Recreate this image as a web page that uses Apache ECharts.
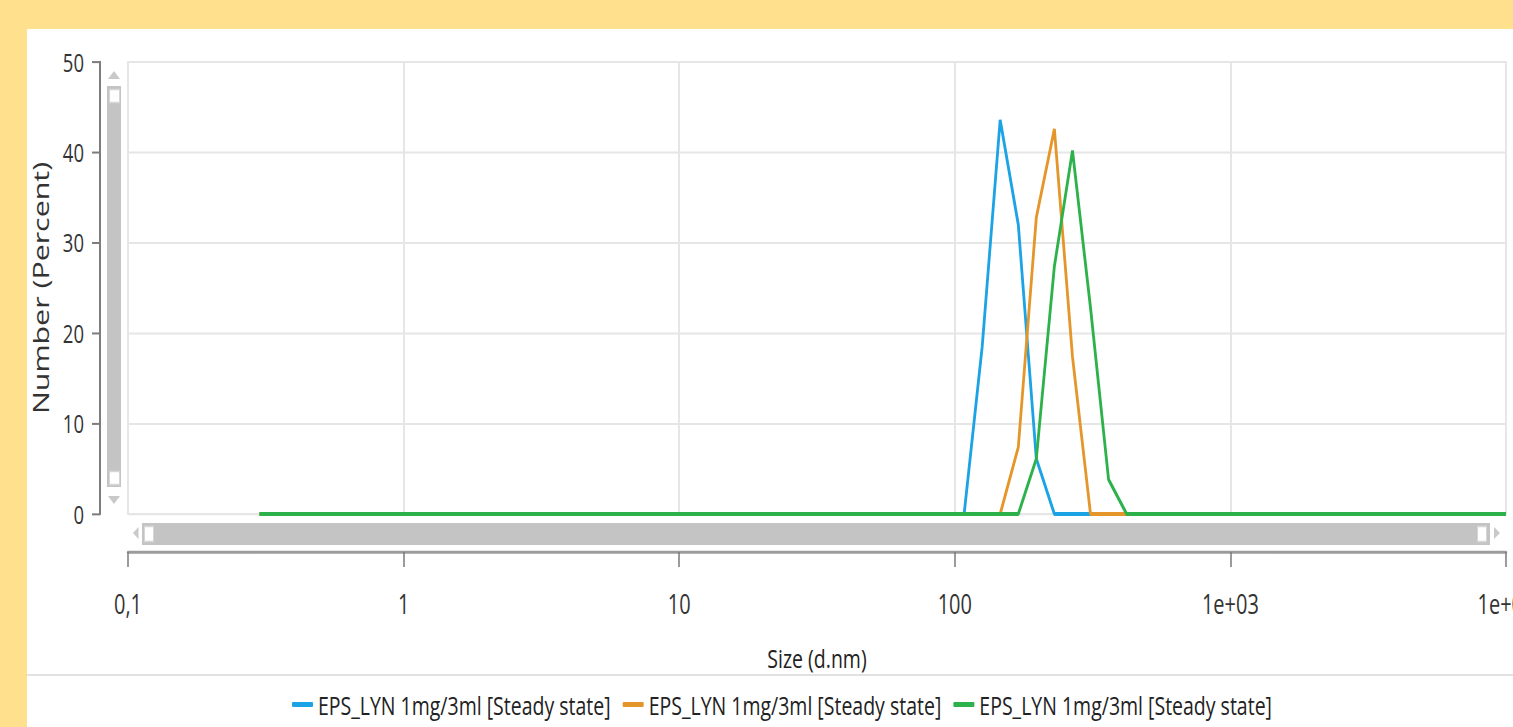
<!DOCTYPE html>
<html>
<head>
<meta charset="utf-8">
<title>Size distribution by number</title>
<script src="https://cdn.jsdelivr.net/npm/echarts@6/dist/echarts.min.js"></script>
<style>
  html { margin: 0; padding: 0; background: #FFE18D; overflow: hidden; }
  body { margin: 0; padding: 0; width: 1513px; height: 727px; overflow: visible; }
  #chart { width: 1513px; transform-origin: 0 0; }
</style>
</head>
<body>
<div id="chart"></div>
<script>
// Size classes (d.nm), log-spaced from 0.3 to 10000 nm
const sizeClasses = [
  0.3, 0.3489, 0.4057, 0.4718, 0.5487, 0.6381, 0.7421, 0.863, 1.003, 1.167,
  1.357, 1.578, 1.835, 2.134, 2.482, 2.887, 3.357, 3.904, 4.54, 5.28,
  6.14, 7.14, 8.303, 9.656, 11.23, 13.06, 15.19, 17.66, 20.54, 23.89,
  27.78, 32.3, 37.57, 43.69, 50.8, 59.08, 68.71, 79.9, 92.92, 108.1,
  125.7, 146.1, 170.0, 197.6, 229.8, 267.3, 310.8, 361.5, 420.4, 488.9,
  568.5, 661.2, 768.9, 894.2, 1040, 1209, 1406, 1635, 1902, 2212,
  2572, 2991, 3479, 4045, 4704, 5471, 6362, 7399, 8604, 10000
];

// Number (%) per size class, one array per record
const record1 = [
  0, 0, 0, 0, 0, 0, 0, 0, 0, 0,
  0, 0, 0, 0, 0, 0, 0, 0, 0, 0,
  0, 0, 0, 0, 0, 0, 0, 0, 0, 0,
  0, 0, 0, 0, 0, 0, 0, 0, 0, 0,
  18.5, 43.6, 32.0, 6.1, 0, 0, 0, 0, 0, 0,
  0, 0, 0, 0, 0, 0, 0, 0, 0, 0,
  0, 0, 0, 0, 0, 0, 0, 0, 0, 0
];
const record2 = [
  0, 0, 0, 0, 0, 0, 0, 0, 0, 0,
  0, 0, 0, 0, 0, 0, 0, 0, 0, 0,
  0, 0, 0, 0, 0, 0, 0, 0, 0, 0,
  0, 0, 0, 0, 0, 0, 0, 0, 0, 0,
  0, 0, 7.4, 32.8, 42.6, 17.4, 0, 0, 0, 0,
  0, 0, 0, 0, 0, 0, 0, 0, 0, 0,
  0, 0, 0, 0, 0, 0, 0, 0, 0, 0
];
const record3 = [
  0, 0, 0, 0, 0, 0, 0, 0, 0, 0,
  0, 0, 0, 0, 0, 0, 0, 0, 0, 0,
  0, 0, 0, 0, 0, 0, 0, 0, 0, 0,
  0, 0, 0, 0, 0, 0, 0, 0, 0, 0,
  0, 0, 0, 6.1, 27.4, 40.2, 22.8, 3.8, 0, 0,
  0, 0, 0, 0, 0, 0, 0, 0, 0, 0,
  0, 0, 0, 0, 0, 0, 0, 0, 0, 0
];

const recordIds = ['Record 1', 'Record 2', 'Record 3'];
const recordLabels = [
  'EPS_LYN 1mg/3ml [Steady state]',
  'EPS_LYN 1mg/3ml [Steady state]',
  'EPS_LYN 1mg/3ml [Steady state]'
];
const recordValues = [record1, record2, record3];
const recordColors = ['#1BA3E6', '#E5962A', '#2DB24B'];

// Axis ranges and tick labels
const xMin = 0.1, xMax = 10000;
const xTickLabels = ['0,1', '1', '10', '100', '1e+03', '1e+04'];
const yMin = 0, yMax = 50, yStep = 10;

// The report view is drawn with a tall, condensed look: the chart is laid out
// on a shorter canvas and stretched vertically by K.
const W = 1513, FULL_H = 727, K = 1.35;
const H = FULL_H / K;
const sy = (y) => y / K;

const el = document.getElementById('chart');
el.style.height = H + 'px';
el.style.transform = 'scaleY(' + K + ')';

const uiFont = "'Open Sans', 'Liberation Sans', sans-serif";

const chart = echarts.init(el, null, { renderer: 'svg', width: W, height: H });

const series = recordIds.map((id, k) => ({
  name: id,
  type: 'line',
  symbol: 'none',
  showSymbol: false,
  clip: true,
  z: 3 + k,
  color: recordColors[k],
  lineStyle: { width: 2.8, color: recordColors[k] },
  emphasis: { disabled: true },
  data: sizeClasses.map((s, i) => [s, recordValues[k][i]])
}));

const labelById = {};
recordIds.forEach((id, k) => { labelById[id] = recordLabels[k]; });

const scrollGray = '#C4C4C4';
const arrowGray = '#C9C9C9';
const handleStyle = { fill: '#FFFFFF', stroke: '#D6D6D6', lineWidth: 1 };

chart.setOption({
  animation: false,
  backgroundColor: 'transparent',
  graphic: [
    // white panel
    { type: 'rect', z: -10, silent: true,
      shape: { x: 27, y: sy(29), width: W - 27, height: H - sy(29) },
      style: { fill: '#FFFFFF' } },
    // divider above the legend
    { type: 'line', z: -9, silent: true,
      shape: { x1: 27, y1: sy(675), x2: W, y2: sy(675) },
      style: { stroke: '#E2E2E2', lineWidth: 1.5 } },
    // vertical scroll bar
    { type: 'polygon', z: 10, silent: true,
      shape: { points: [[108, sy(79)], [120, sy(79)], [114, sy(71)]] }, style: { fill: arrowGray } },
    { type: 'rect', z: 10, silent: true,
      shape: { x: 107, y: sy(86), width: 14, height: sy(401) }, style: { fill: scrollGray } },
    { type: 'rect', z: 11, silent: true,
      shape: { x: 109.5, y: sy(89.5), width: 10, height: sy(13) }, style: handleStyle },
    { type: 'rect', z: 11, silent: true,
      shape: { x: 109.5, y: sy(471.5), width: 10, height: sy(13) }, style: handleStyle },
    { type: 'polygon', z: 10, silent: true,
      shape: { points: [[108, sy(496)], [120, sy(496)], [114, sy(504)]] }, style: { fill: arrowGray } },
    // horizontal scroll bar
    { type: 'polygon', z: 10, silent: true,
      shape: { points: [[138.5, sy(527)], [138.5, sy(539)], [133, sy(533)]] }, style: { fill: arrowGray } },
    { type: 'rect', z: 10, silent: true,
      shape: { x: 142, y: sy(523), width: 1348, height: sy(22) }, style: { fill: scrollGray } },
    { type: 'rect', z: 11, silent: true,
      shape: { x: 144.5, y: sy(526.5), width: 9, height: sy(15) }, style: handleStyle },
    { type: 'rect', z: 11, silent: true,
      shape: { x: 1477.5, y: sy(526.5), width: 9, height: sy(15) }, style: handleStyle },
    { type: 'polygon', z: 10, silent: true,
      shape: { points: [[1494, sy(527)], [1494, sy(539)], [1500, sy(533)]] }, style: { fill: arrowGray } }
  ],
  grid: {
    left: 128, right: W - 1506, top: sy(62), bottom: H - sy(514),
    show: true,
    backgroundColor: 'transparent',
    borderColor: '#E3E3E3',
    borderWidth: 1.6,
    containLabel: false,
    outerBoundsMode: 'none'
  },
  legend: {
    top: sy(699) - 6,
    left: 292,
    padding: 0,
    icon: 'roundRect',
    itemWidth: 21,
    itemHeight: sy(5),
    itemGap: 12,
    selectedMode: false,
    data: recordIds,
    formatter: (name) => labelById[name],
    textStyle: { fontFamily: uiFont, fontSize: 19.5, color: '#222' }
  },
  xAxis: {
    type: 'log',
    logBase: 10,
    min: xMin,
    max: xMax,
    position: 'bottom',
    offset: sy(552) - sy(514),
    name: 'Size (d.nm)',
    nameLocation: 'middle',
    nameGap: sy(658) - sy(552) - 10,
    nameTextStyle: { fontFamily: uiFont, fontSize: 19.5, color: '#222' },
    axisLine: { show: true, onZero: false, lineStyle: { color: '#9C9C9C', width: 2.2 } },
    axisTick: { show: true, inside: false, length: sy(15), lineStyle: { color: '#7A7A7A', width: 1.5 } },
    minorTick: { show: false },
    axisLabel: {
      show: true,
      margin: sy(604) - sy(552) - 10,
      showMinLabel: true,
      showMaxLabel: true,
      hideOverlap: false,
      fontFamily: uiFont,
      fontSize: 20,
      color: '#333',
      formatter: (v) => xTickLabels[Math.round(Math.log10(v)) + 1]
    },
    splitLine: { show: true, lineStyle: { color: '#E6E6E6', width: 2 } },
    minorSplitLine: { show: false }
  },
  yAxis: {
    type: 'value',
    min: yMin,
    max: yMax,
    interval: yStep,
    position: 'left',
    offset: 28,
    name: 'Number (Percent)',
    nameLocation: 'middle',
    nameGap: 40,
    nameTextStyle: { fontFamily: uiFont, fontSize: 22.5, color: '#333' },
    axisLine: { show: true, onZero: false, lineStyle: { color: '#7D7D7D', width: 2 } },
    axisTick: { show: true, inside: false, length: 8, lineStyle: { color: '#7D7D7D', width: 1.5 } },
    axisLabel: {
      show: true,
      margin: 16,
      fontFamily: uiFont,
      fontSize: 18.5,
      color: '#333'
    },
    splitLine: { show: true, lineStyle: { color: '#E6E6E6', width: 1.5 } }
  },
  series: series
});
</script>
</body>
</html>
